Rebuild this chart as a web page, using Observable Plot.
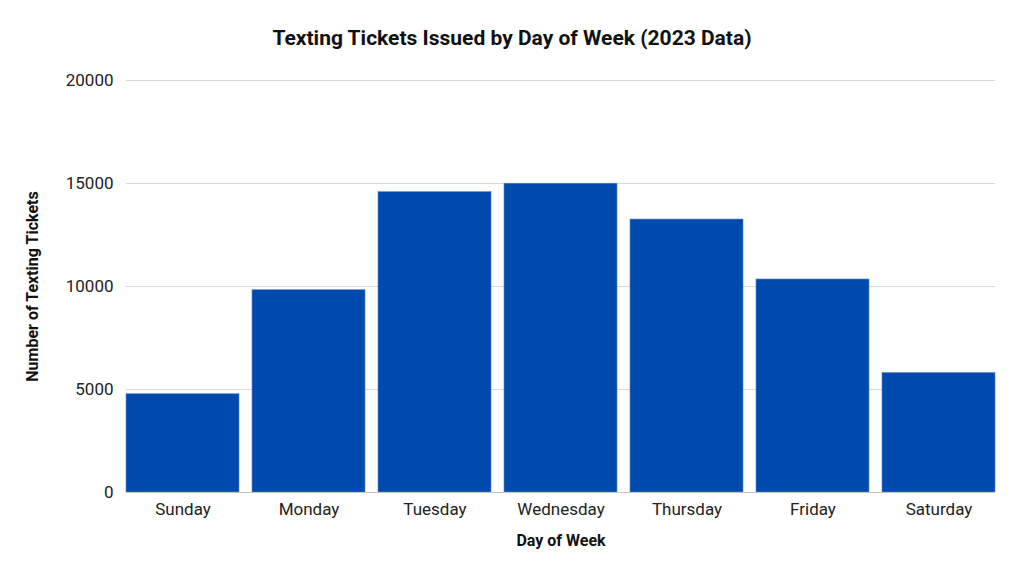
<!DOCTYPE html>
<html>
<head>
<meta charset="utf-8">
<script src="https://cdn.jsdelivr.net/npm/d3@7"></script>
<script src="https://cdn.jsdelivr.net/npm/@observablehq/plot@0.6"></script>
<style>
  html, body { margin: 0; padding: 0; background: #fff; }
  #wrap { width: 1024px; height: 576px; position: relative; font-family: Roboto, sans-serif; }
  #title { height: 60px; box-sizing: border-box; padding-top: 25px; text-align: center; font-weight: bold; font-size: 21px; color: #111; line-height: 26px; }
</style>
</head>
<body>
<div id="wrap">
  <div id="title"></div>
  <div id="chart"></div>
</div>
<script>
const titleText = "Texting Tickets Issued by Day of Week (2023 Data)";
const xLabel = "Day of Week";
const yLabel = "Number of Texting Tickets";
const days = ["Sunday", "Monday", "Tuesday", "Wednesday", "Thursday", "Friday", "Saturday"];
const tickets = [4770, 9820, 14580, 14990, 13250, 10340, 5800];
const yTicks = [0, 5000, 10000, 15000, 20000];

const data = days.map((d, i) => ({day: d, value: tickets[i]}));
document.getElementById("title").textContent = titleText;

const chart = Plot.plot({
  width: 1024,
  height: 516,
  marginTop: 20,
  marginBottom: 84,
  marginLeft: 126,
  marginRight: 29,
  style: {fontFamily: "Roboto, sans-serif", fontSize: "17px", color: "#222", background: "#fff"},
  x: {domain: days, paddingInner: 0.105, paddingOuter: 0, label: null},
  y: {domain: [0, 20000], label: null},
  marks: [
    Plot.gridY(yTicks, {stroke: "#d9d9d9", strokeOpacity: 1}),
    Plot.barY(data, {x: "day", y: "value", fill: "#004aad", stroke: "#5a86c8", strokeWidth: 0.6}),
    Plot.ruleY([0], {stroke: "#c4c4c4"}),
    Plot.axisY(yTicks, {tickSize: 0, tickPadding: 13, label: null, fontSize: 17, fill: "#222", tickFormat: d => String(d)}),
    Plot.axisX({tickSize: 0, tickPadding: 10, label: null, fontSize: 17, fill: "#222"}),
    Plot.text([yLabel], {frameAnchor: "left", textAnchor: "middle", dx: -94, rotate: -90, fontWeight: "bold", fontSize: 16, fill: "#111"}),
    Plot.text([xLabel], {frameAnchor: "bottom", dy: 53, fontWeight: "bold", fontSize: 16, fill: "#111"})
  ]
});
document.getElementById("chart").appendChild(chart);
</script>
</body>
</html>
